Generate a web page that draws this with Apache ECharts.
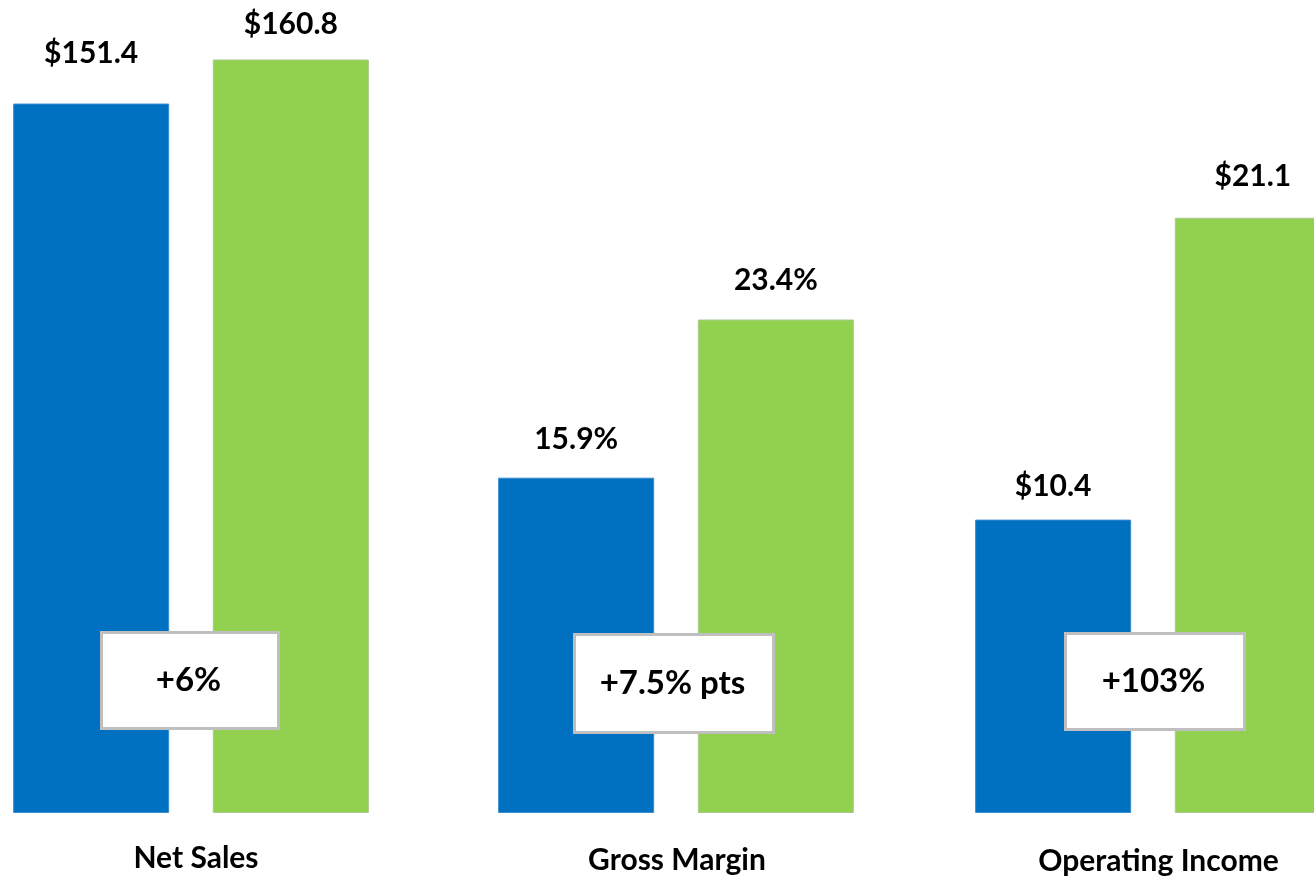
<!DOCTYPE html>
<html>
<head>
<meta charset="utf-8">
<script src="https://cdn.jsdelivr.net/npm/echarts@6/dist/echarts.min.js"></script>
<style>
html,body{margin:0;padding:0;background:#fff;}
#chart{width:1314px;height:877px;}
</style>
</head>
<body>
<div id="chart"></div>
<script>
// ---- data ----
const categories = ['Net Sales', 'Gross Margin', 'Operating Income'];
const priorValues = [151.4, 15.9, 10.4];
const currentValues = [160.8, 23.4, 21.1];
const valuePrefix = ['$', '', '$'];
const valueSuffix = ['', '%', ''];
const changeLabels = ['+6%', '+7.5% pts', '+103%'];

// ---- layout ----
const FONT = 'Lato, "Liberation Sans", Arial, sans-serif';
const BLUE = '#0070C0';
const GREEN = '#92D050';
const gridLayouts = [
  {left: 91, width: 200, yMax: 173.5, labelMargin: 30, labelShift: 10, priorDist: 35, currentDist: 20},
  {left: 576, width: 200, yMax: 38.55, labelMargin: 32, labelShift: 2, priorDist: 23, currentDist: 24},
  {left: 1053, width: 200, yMax: 28.82, labelMargin: 33, labelShift: 11, priorDist: 18, currentDist: 26}
];
const boxes = [
  {x: 100, y: 631, w: 177, h: 96},
  {x: 573, y: 633, w: 199, h: 98},
  {x: 1064, y: 632, w: 179, h: 96}
];

const grid = [], xAxis = [], yAxis = [], series = [];
categories.forEach((cat, i) => {
  const g = gridLayouts[i];
  grid.push({left: g.left, width: g.width, top: 0, bottom: 64, containLabel: false});
  xAxis.push({
    type: 'category', gridIndex: i, data: [cat],
    axisLine: {show: false}, axisTick: {show: false},
    axisLabel: {fontFamily: FONT, fontWeight: 'bold', fontSize: 30, color: '#000',
      margin: g.labelMargin, padding: [0, 0, 0, g.labelShift]}
  });
  yAxis.push({type: 'value', gridIndex: i, min: 0, max: g.yMax, show: false, splitLine: {show: false}});
  const fmt = (v) => valuePrefix[i] + v.toFixed(1) + valueSuffix[i];
  const lbl = (d) => ({
    show: true, position: 'top', distance: d,
    fontFamily: FONT, fontWeight: 'bold', fontSize: 30, color: '#000',
    formatter: (p) => fmt(p.value)
  });
  series.push({
    type: 'bar', xAxisIndex: i, yAxisIndex: i, data: [priorValues[i]],
    barWidth: 156, barGap: '28%', clip: false,
    itemStyle: {color: BLUE, borderColor: '#3a8ad0', borderWidth: 1},
    label: lbl(g.priorDist), silent: true, z: 2
  });
  series.push({
    type: 'bar', xAxisIndex: i, yAxisIndex: i, data: [currentValues[i]],
    barWidth: 156, barGap: '28%', clip: false,
    itemStyle: {color: GREEN, borderColor: '#a9c98c', borderWidth: 1},
    label: lbl(g.currentDist), silent: true, z: 2
  });
});

const graphic = [];
changeLabels.forEach((t, i) => {
  const b = boxes[i];
  graphic.push({
    type: 'rect', left: b.x, top: b.y, z: 100, zlevel: 1,
    shape: {x: 0, y: 0, width: b.w, height: b.h},
    style: {fill: '#fff', stroke: '#BFBFBF', lineWidth: 3}
  });
  graphic.push({
    type: 'text', x: b.x + b.w / 2, y: b.y + b.h / 2 + 1, z: 101, zlevel: 1,
    style: {text: t, fill: '#000', font: 'bold 33px ' + FONT, align: 'center', verticalAlign: 'middle'}
  });
});

const chart = echarts.init(document.getElementById('chart'), null, {renderer: 'canvas'});
chart.setOption({
  animation: false,
  backgroundColor: '#fff',
  grid, xAxis, yAxis, series, graphic
});
</script>
</body>
</html>
